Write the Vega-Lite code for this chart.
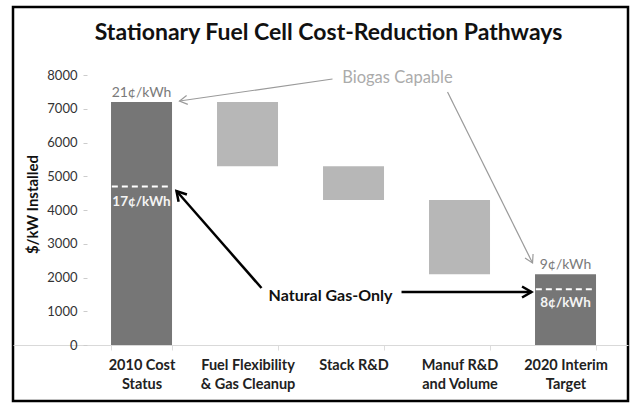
{
  "$schema": "https://vega.github.io/schema/vega-lite/v6.json",
  "width": 615,
  "height": 394,
  "autosize": {"type": "none"},
  "padding": {"left": 13, "top": 7, "right": 4, "bottom": 2},
  "background": "white",
  "title": {
    "text": "Stationary Fuel Cell Cost-Reduction Pathways",
    "font": "Lato",
    "fontSize": 23,
    "fontWeight": "bold",
    "color": "#111111",
    "anchor": "middle",
    "frame": "group",
    "baseline": "alphabetic",
    "offset": -56,
    "dx": 8
  },
  "config": {
    "view": {"stroke": "#000000", "strokeWidth": 2.5},
    "font": "Lato"
  },
  "layer": [
    {
      "data": {
        "values": [
          {"cat": "2010 Cost\nStatus", "start": 0, "end": 7200, "kind": "total"},
          {"cat": "Fuel Flexibility\n& Gas Cleanup", "start": 5300, "end": 7200, "kind": "step"},
          {"cat": "Stack R&D", "start": 4300, "end": 5300, "kind": "step"},
          {"cat": "Manuf R&D\nand Volume", "start": 2100, "end": 4300, "kind": "step"},
          {"cat": "2020 Interim\nTarget", "start": 0, "end": 2100, "kind": "total"}
        ]
      },
      "layer": [
        {
          "mark": {"type": "bar"},
          "encoding": {
            "x": {
              "field": "cat",
              "type": "nominal",
              "sort": null,
              "scale": {"paddingInner": 0.4245, "paddingOuter": 0.6132, "align": 0.754},
              "axis": {
                "title": null,
                "orient": "bottom",
                "offset": -56,
                "labelAngle": 0,
                "labelExpr": "isValid(datum.value) ? split(datum.value, '\\n') : ''",
                "labelFont": "Lato",
                "labelFontSize": 14.5,
                "labelFontWeight": "bold",
                "labelColor": "#222222",
                "labelLineHeight": 19,
                "labelPadding": 8,
                "labelLimit": 200,
                "domainColor": "#d9d9d9",
                "tickColor": "#dddddd",
                "tickSize": 5,
                "tickBand": "extent",
                "grid": false
              }
            },
            "y": {
              "field": "start",
              "type": "quantitative",
              "scale": {"domain": [-1659, 10015], "nice": false, "zero": false},
              "axis": {
                "title": "$/kW Installed",
                "titleFont": "Lato",
                "titleFontSize": 15,
                "titleFontWeight": "bold",
                "titleColor": "#111111",
                "titlePadding": 6,
                "offset": -74,
                "values": [0, 1000, 2000, 3000, 4000, 5000, 6000, 7000, 8000],
                "format": "d",
                "labelFont": "Lato",
                "labelFontSize": 13,
                "labelColor": "#333333",
                "labelPadding": 6,
                "tickSize": 4,
                "tickColor": "#cccccc",
                "domain": false,
                "grid": false
              }
            },
            "y2": {"field": "end"},
            "color": {
              "field": "kind",
              "type": "nominal",
              "scale": {"domain": ["total", "step"], "range": ["#767676", "#b7b7b7"]},
              "legend": null
            }
          }
        }
      ]
    },
    {
      "layer": [
        {
          "data": {
            "values": [
              {"arrow": "a1-shaft", "o": 1, "x": 1.802, "y": 7881},
              {"arrow": "a1-shaft", "o": 2, "x": 0.3585, "y": 7230},
              {"arrow": "a1-head", "o": 1, "x": 0.4368, "y": 7129},
              {"arrow": "a1-head", "o": 2, "x": 0.3585, "y": 7230},
              {"arrow": "a1-head", "o": 3, "x": 0.4255, "y": 7393},
              {"arrow": "a2-shaft", "o": 1, "x": 2.887, "y": 7496},
              {"arrow": "a2-shaft", "o": 2, "x": 3.689, "y": 2430},
              {"arrow": "a2-head", "o": 1, "x": 3.694, "y": 2696},
              {"arrow": "a2-head", "o": 2, "x": 3.689, "y": 2430},
              {"arrow": "a2-head", "o": 3, "x": 3.618, "y": 2578}
            ]
          },
          "mark": {"type": "line", "color": "#9a9a9a", "strokeWidth": 1.2},
          "encoding": {
            "x": {"field": "x", "type": "quantitative", "scale": {"domain": [-1.2123, 4.5896], "nice": false, "zero": false}, "axis": null},
            "y": {"field": "y", "type": "quantitative", "scale": {"domain": [-1659, 10015], "nice": false, "zero": false}},
            "detail": {"field": "arrow"},
            "order": {"field": "o"}
          }
        },
        {
          "data": {
            "values": [
              {"arrow": "a3-shaft", "o": 1, "x": 1.132, "y": 1689},
              {"arrow": "a3-shaft", "o": 2, "x": 0.3302, "y": 4563},
              {"arrow": "a3-head", "o": 1, "x": 0.4283, "y": 4459},
              {"arrow": "a3-head", "o": 2, "x": 0.3302, "y": 4563},
              {"arrow": "a3-head", "o": 3, "x": 0.35, "y": 4243},
              {"arrow": "a4-shaft", "o": 1, "x": 2.453, "y": 1570},
              {"arrow": "a4-shaft", "o": 2, "x": 3.679, "y": 1570},
              {"arrow": "a4-head", "o": 1, "x": 3.59, "y": 1733},
              {"arrow": "a4-head", "o": 2, "x": 3.679, "y": 1570},
              {"arrow": "a4-head", "o": 3, "x": 3.59, "y": 1407}
            ]
          },
          "mark": {"type": "line", "color": "#000000", "strokeWidth": 2.5},
          "encoding": {
            "x": {"field": "x", "type": "quantitative", "scale": {"domain": [-1.2123, 4.5896], "nice": false, "zero": false}, "axis": null},
            "y": {"field": "y", "type": "quantitative", "scale": {"domain": [-1659, 10015], "nice": false, "zero": false}},
            "detail": {"field": "arrow"},
            "order": {"field": "o"}
          }
        },
        {
          "data": {
            "values": [
              {"x": -0.28, "x2": 0.28, "y": 4700},
              {"x": 3.72, "x2": 4.28, "y": 1650}
            ]
          },
          "mark": {"type": "rule", "color": "#ffffff", "strokeWidth": 2, "strokeDash": [6, 4]},
          "encoding": {
            "x": {"field": "x", "type": "quantitative", "scale": {"domain": [-1.2123, 4.5896], "nice": false, "zero": false}, "axis": null},
            "x2": {"field": "x2"},
            "y": {"field": "y", "type": "quantitative", "scale": {"domain": [-1659, 10015], "nice": false, "zero": false}}
          }
        },
        {
          "data": {"values": [{"label": "Biogas Capable", "x": 2.415, "y": 7911}]},
          "mark": {"type": "text", "font": "Lato", "fontSize": 16.5, "color": "#ababab", "baseline": "middle", "align": "center"},
          "encoding": {
            "x": {"field": "x", "type": "quantitative", "scale": {"domain": [-1.2123, 4.5896], "nice": false, "zero": false}, "axis": null},
            "y": {"field": "y", "type": "quantitative", "scale": {"domain": [-1659, 10015], "nice": false, "zero": false}},
            "text": {"field": "label"}
          }
        },
        {
          "data": {"values": [{"label": "Natural Gas-Only", "x": 1.783, "y": 1452}]},
          "mark": {"type": "text", "font": "Lato", "fontSize": 16, "fontWeight": "bold", "color": "#111111", "baseline": "middle", "align": "center"},
          "encoding": {
            "x": {"field": "x", "type": "quantitative", "scale": {"domain": [-1.2123, 4.5896], "nice": false, "zero": false}, "axis": null},
            "y": {"field": "y", "type": "quantitative", "scale": {"domain": [-1659, 10015], "nice": false, "zero": false}},
            "text": {"field": "label"}
          }
        },
        {
          "data": {"values": [
            {"label": "21¢/kWh", "x": 0, "y": 7467},
            {"label": "9¢/kWh", "x": 4, "y": 2370}
          ]},
          "mark": {"type": "text", "font": "Lato", "fontSize": 14, "color": "#7a7a7a", "baseline": "middle", "align": "center"},
          "encoding": {
            "x": {"field": "x", "type": "quantitative", "scale": {"domain": [-1.2123, 4.5896], "nice": false, "zero": false}, "axis": null},
            "y": {"field": "y", "type": "quantitative", "scale": {"domain": [-1659, 10015], "nice": false, "zero": false}},
            "text": {"field": "label"}
          }
        },
        {
          "data": {"values": [
            {"label": "17¢/kWh", "x": 0, "y": 4237},
            {"label": "8¢/kWh", "x": 4, "y": 1244}
          ]},
          "mark": {"type": "text", "font": "Lato", "fontSize": 13.5, "fontWeight": "bold", "color": "#f4f4f4", "baseline": "middle", "align": "center"},
          "encoding": {
            "x": {"field": "x", "type": "quantitative", "scale": {"domain": [-1.2123, 4.5896], "nice": false, "zero": false}, "axis": null},
            "y": {"field": "y", "type": "quantitative", "scale": {"domain": [-1659, 10015], "nice": false, "zero": false}},
            "text": {"field": "label"}
          }
        }
      ]
    }
  ],
  "resolve": {"scale": {"x": "independent"}}
}
